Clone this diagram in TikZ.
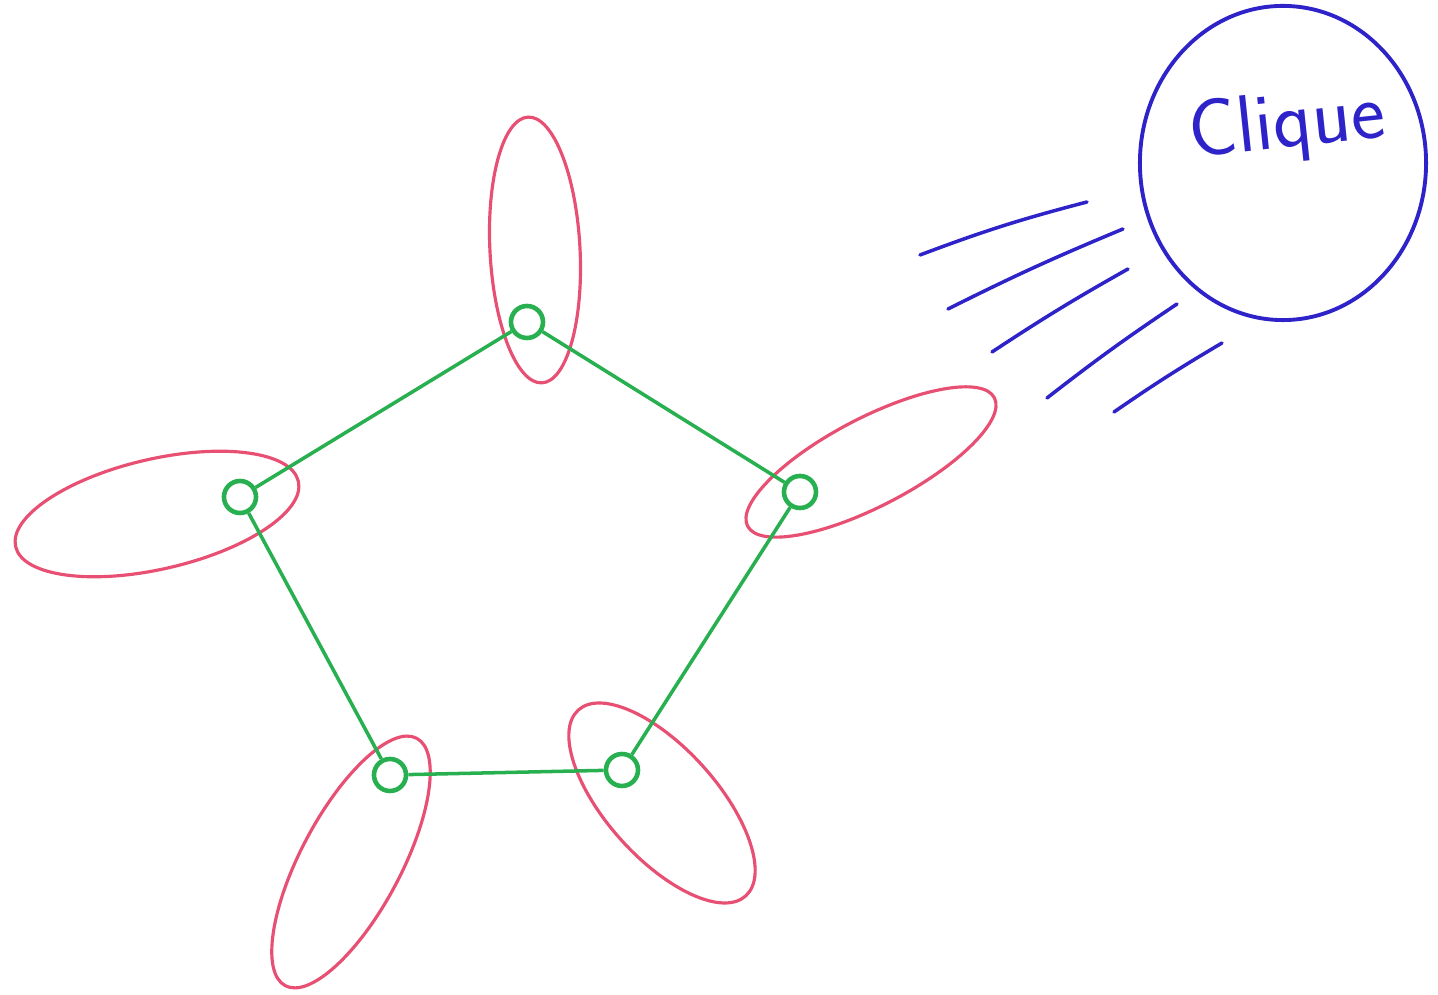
\documentclass[tikz,border=0pt]{standalone}
\usepackage{xcolor}
\usepackage{tikz}
\usetikzlibrary{shapes.geometric}

\definecolor{pengreen}{RGB}{40,175,80}
\definecolor{penred}{RGB}{232,80,115}
\definecolor{penblue}{RGB}{45,35,200}

\begin{document}
\begin{tikzpicture}[
      x=0.01cm, y=-0.01cm,
      vertex/.style={circle, draw=pengreen, line width=1.3pt, minimum size=0.32cm, inner sep=0pt},
      edge/.style={draw=pengreen, line width=1pt},
      petal/.style={ellipse, draw=penred, line width=0.9pt, inner sep=0pt},
      cliquebox/.style={ellipse, draw=penblue, line width=1.1pt, minimum width=2.86cm, minimum height=3.14cm, inner sep=0pt},
      streak/.style={draw=penblue, line width=1pt, line cap=round},
      handtext/.style={font=\sffamily\fontsize{23}{23}\selectfont, text=penblue}
    ]
      \useasboundingbox (0,0) rectangle (1438,995);

      % Red petals round the vertices
      \node[petal, minimum width=2.66cm, minimum height=0.9cm, rotate=93]
        (ptop) at (535,250) {};
      \node[petal, minimum width=2.78cm, minimum height=0.88cm, rotate=27.5]
        (pright) at (871,462) {};
      \node[petal, minimum width=2.9cm, minimum height=1.1cm, rotate=13]
        (pleft) at (157,514) {};
      \node[petal, minimum width=2.8cm, minimum height=1.0cm, rotate=62]
        (pbotleft) at (351,862) {};
      \node[petal, minimum width=2.5cm, minimum height=1.1cm, rotate=-48]
        (pbotright) at (662,803) {};

      % Green pentagon
      \node[vertex] (vtop) at (527,322) {};
      \node[vertex] (vright) at (800,492) {};
      \node[vertex] (vbotright) at (622,770) {};
      \node[vertex] (vbotleft) at (390,775) {};
      \node[vertex] (vleft) at (240,497) {};

      \draw[edge] (vtop) -- (vright);
      \draw[edge] (vright) -- (vbotright);
      \draw[edge] (vbotright) -- (vbotleft);
      \draw[edge] (vbotleft) -- (vleft);
      \draw[edge] (vleft) -- (vtop);

      % Flying clique
      \node[cliquebox] (clique) at (1283,163) {};
      \node[handtext, rotate=6] (cliquelabel) at (1287,127) {Clique};

      % Motion streaks
      \draw[streak] (920,255) to[bend left=3] (1087,202);
      \draw[streak] (948,309) to[bend left=2] (1123,229);
      \draw[streak] (992,352) to[bend left=2] (1128,269);
      \draw[streak] (1047,398) to[bend left=2] (1177,304);
      \draw[streak] (1114,412) to[bend left=2] (1222,343);
    \end{tikzpicture}
\end{document}
